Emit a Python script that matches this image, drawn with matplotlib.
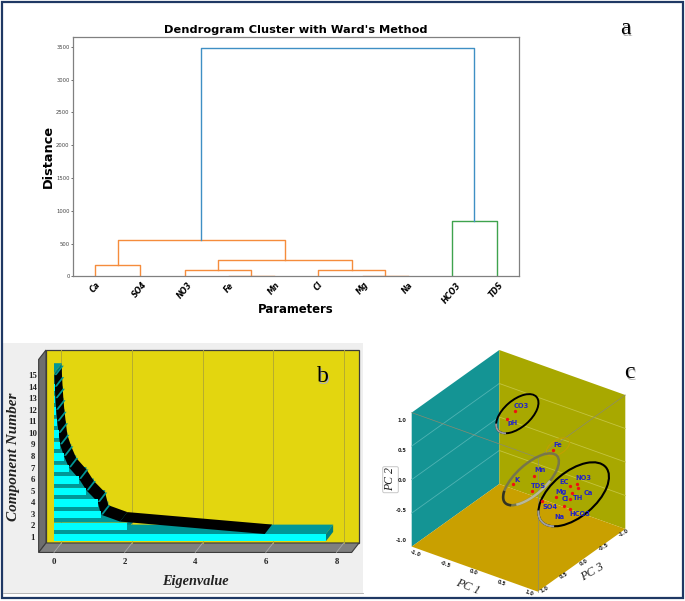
import numpy as np
import matplotlib
matplotlib.use('Agg')
import matplotlib.pyplot as plt
from matplotlib.patches import Polygon, Rectangle, Ellipse, FancyBboxPatch

W, H = 685, 601
SERIF = 'Liberation Serif'

# panel a : dendrogram
leaf_names = ['Ca','SO4','NO3','Fe','Mn','Cl','Mg','Na','HCO3','TDS']
link_left = [0,3,2,6,5,12,10,8,16]
link_right = [1,4,11,7,13,14,15,9,17]
link_height = [180,10,90,12,90,255,560,845,3480]
link_colour = ['#f58c3c']*7 + ['#3fa34d','#3f8fc4']
dist_ticks = [0,500,1000,1500,2000,2500,3000,3500]

# panel b : scree plot
components = list(range(1,16))
eigenvalues = [7.7,2.07,1.33,1.24,0.92,0.71,0.42,0.28,0.17,0.13,0.09,0.06,0.04,0.02,0.01]
line_values = [5.97,1.87,1.33,1.24,0.92,0.71,0.42,0.28,0.17,0.13,0.09,0.06,0.04,0.02,0.01]
line_levels = [1.32,2.4,3.0,4.1,5.1,6.1,7.1,8.1,9.1,10.1,11.1,12.1,13.1,14.1,15.1]
eigen_ticks = [0,2,4,6,8]

# panel c : loading plot
param_names = ['CO3','pH','Fe','Mn','K','TDS','EC','NO3','Ca','Mg','TH','Cl','SO4','Na','HCO3']
pc1 = [-0.05,-0.18,0.54,0.24,-0.09,0.21,0.81,0.93,0.94,0.59,0.85,0.82,0.38,0.72,0.81]
pc2 = [0.87,0.72,0.49,0.01,-0.23,-0.23,0.04,0.11,0.06,-0.19,-0.04,-0.14,-0.32,-0.28,-0.30]
pc3 = [0.0]*15
pc_ticks = [-1.0,-0.5,0.0,0.5,1.0]


def axes_px(fig, l, t, r, b):
    return fig.add_axes([l/W, 1-b/H, (r-l)/W, (b-t)/H])


fig = plt.figure(figsize=(W/100, H/100), dpi=100, facecolor='white')

# page frame and grey backing of panel b
bg = axes_px(fig, 0, 0, W, H)
bg.set_xlim(0, W)
bg.set_ylim(H, 0)
bg.axis('off')
bg.add_patch(Rectangle((3, 343), 360, 250, fc='#efefef', ec='none'))
bg.plot([3, 363], [592.5, 592.5], color='#a9a9a9', lw=0.6)
bg.add_patch(Rectangle((2, 1.5), 681, 596.5, fc='none', ec='#1f3864', lw=1.6))

# ---- a ----
ax = axes_px(fig, 73, 36.7, 519, 276.3)
node_x = [5+10*i for i in range(len(leaf_names))]
node_h = [0]*len(leaf_names)
for a, b, h, c in zip(link_left, link_right, link_height, link_colour):
    ax.plot([node_x[a], node_x[a], node_x[b], node_x[b]], [node_h[a], h, h, node_h[b]], color=c, lw=1.0)
    node_x.append((node_x[a]+node_x[b])/2)
    node_h.append(h)
ax.set_xlim(0, 100)
ax.set_ylim(0, 3655)
ax.set_xticks([5+10*i for i in range(len(leaf_names))])
ax.set_xticklabels(leaf_names, rotation=50, fontsize=5.6, fontweight='bold', style='italic')
ax.set_yticks(dist_ticks)
ax.tick_params(axis='y', labelsize=3.8, labelcolor='#444444', length=1.5, width=0.4, pad=1)
ax.tick_params(axis='x', length=0, pad=3)
for s in ax.spines.values():
    s.set_color('#808080')
    s.set_linewidth(0.9)
ax.set_title("Dendrogram Cluster with Ward's Method", fontsize=8.2, fontweight='bold', pad=3)
ax.set_xlabel('Parameters', fontsize=8.4, fontweight='bold', labelpad=-1)
ax.set_ylabel('Distance', fontsize=9.3, fontweight='bold', labelpad=1)

# ---- b ----
X0, XS = 54.0, 35.3    # pixel of eigenvalue 0, pixels per unit
Y1, YS = 537.7, 11.53  # pixel of component 1, pixels per component
bx = axes_px(fig, 3, 343, 363, 590)
bx.set_xlim((3-X0)/XS, (363-X0)/XS)
bx.set_ylim(1-(590-Y1)/YS, 1+(Y1-343)/YS)
bx.axis('off')

dx, dy = 0.208, 0.82
wl, wr, wb, wt = -0.227, 8.64, 0.54, 17.28
edge = '#3c3c3c'
bx.add_patch(Polygon([(wl, wb), (wr, wb), (wr, wt), (wl, wt)], fc='#e3d60f', ec=edge, lw=0.9, zorder=1))
bx.add_patch(Polygon([(wl-dx, wb-dy), (wl, wb), (wl, wt), (wl-dx, wt-dy)], fc='#6e6e6e', ec=edge, lw=0.8, zorder=1))
bx.add_patch(Polygon([(wl-dx, wb-dy), (wl, wb), (wr, wb), (wr-dx, wb-dy)], fc='#7f7f7f', ec=edge, lw=0.8, zorder=1))
for v in eigen_ticks:
    bx.plot([v+dx, v+dx], [wb, wt], color='#b5ac30', lw=0.7, zorder=2)
    bx.plot([v, v+dx], [wb-dy, wb], color='#a8a8a8', lw=0.6, zorder=2)
    bx.text(v, -1.08, str(v), family=SERIF, fontweight='bold', fontsize=6.3, ha='center', va='center', color='#222222')

bar_h = 0.63
teal = '#009797'
for k in range(len(components)-1, -1, -1):
    c = components[k]
    v = eigenvalues[k]
    z = 10+(15-c)*0.1
    top = c+bar_h/2
    bx.add_patch(Polygon([(0, top), (v, top), (v+dx, top+dy), (0, top+dy)], fc=teal, ec='none', zorder=z))
    bx.add_patch(Polygon([(v, top-bar_h), (v, top), (v+dx, top+dy), (v+dx, top-bar_h+dy)], fc='#007f7f', ec='none', zorder=z))
    bx.barh(c, v, height=bar_h, color='#00ffff', zorder=40)
    bx.text(-0.6, c, str(c), family=SERIF, fontweight='bold', fontsize=6.3, ha='center', va='center', color='#222222')

# black eigenvalue ribbon with teal strips at its joints
for k in range(len(components)-1):
    a, b = line_values[k+1], line_values[k]
    ya, yb = line_levels[k+1], line_levels[k]
    bx.add_patch(Polygon([(a, ya), (b, yb), (b+dx, yb+dy), (a+dx, ya+dy)], fc='black', ec='none', zorder=30))
for k in range(2, len(components)):
    v, y = line_values[k], line_levels[k]
    bx.add_patch(Polygon([(v, y), (v+0.06, y), (v+dx+0.06, y+dy), (v+dx, y+dy)], fc=teal, ec='none', zorder=31))

bx.text(4.0, -2.84, 'Eigenvalue', family=SERIF, style='italic', fontweight='bold', fontsize=10.3, ha='center', va='center', color='#222222')
bx.text(-1.16, 8.0, 'Component Number', family=SERIF, style='italic', fontweight='bold', fontsize=11, rotation=90, ha='center', va='center', color='#222222')

# ---- c ----
cx = axes_px(fig, 375, 345, 640, 598)
cx.set_xlim(375, 640)
cx.set_ylim(598, 345)
cx.axis('off')


def project(p1, p2, p3):
    return (518.5+63*p1-43.8*p3, 470.8+22.5*p1-67*p2+31.3*p3)


def wall(p, colour):
    cx.add_patch(Polygon([project(*q) for q in p], fc=colour, ec='none', zorder=1))


def ring_part(x, y, w, h, angle, t1, t2, colour, lw):
    t = np.radians(np.linspace(t1, t2, 40))
    th = np.radians(angle)
    ex, ey = w/2*np.cos(t), h/2*np.sin(t)
    cx.plot(x+ex*np.cos(th)-ey*np.sin(th), y+ex*np.sin(th)+ey*np.cos(th), color=colour, lw=lw, zorder=5)


wall([(-1,-1,-1), (-1,-1,1), (-1,1,1), (-1,1,-1)], '#149494')
wall([(-1,-1,-1), (1,-1,-1), (1,1,-1), (-1,1,-1)], '#a8a800')
wall([(-1,-1,-1), (1,-1,-1), (1,-1,1), (-1,-1,1)], '#c9a000')

for v in [-0.5, 0.0, 0.5]:
    a, b, d = project(-1,v,1), project(-1,v,-1), project(1,v,-1)
    cx.plot([a[0], b[0]], [a[1], b[1]], color='#4fb3b3', lw=0.6, zorder=2)
    cx.plot([b[0], d[0]], [b[1], d[1]], color='#c4c440', lw=0.6, zorder=2)
# top front edges of the open cube
tl, tf, tr, bf = project(-1,1,1), project(1,1,1), project(1,1,-1), project(1,-1,1)
cx.plot([tl[0], tf[0], tr[0]], [tl[1], tf[1], tr[1]], color='#8a8a70', lw=0.5, zorder=3)
cx.plot([tf[0], bf[0]], [tf[1], bf[1]], color='#8a8a70', lw=0.5, zorder=3)

# cluster rings
cx.add_patch(Ellipse((517.3, 413.7), 51, 27, angle=-41, fc='none', ec='black', lw=1.4, zorder=4))
ring_part(517.3, 413.7, 51, 27, -41, 150, 205, '#9a9a9a', 1.4)
cx.add_patch(Ellipse((558, 447), 26, 14, angle=-32, fc='none', ec='#c2a000', lw=0.8, zorder=4))
cx.add_patch(Ellipse((531, 479.3), 70, 30, angle=-42, fc='none', ec='#77764a', lw=1.8, zorder=4))
ring_part(531, 479.3, 70, 30, -42, 160, 215, '#33331f', 1.8)
ring_part(531, 479.3, 70, 30, -42, 70, 140, '#b9b89a', 1.8)
cx.add_patch(Ellipse((573.7, 494.3), 84, 45, angle=-40, fc='none', ec='black', lw=1.5, zorder=4))
ring_part(573.7, 494.3, 84, 45, -40, 150, 205, '#a0a0a0', 1.5)

for p1, p2, p3 in zip(pc1, pc2, pc3):
    px, py = project(p1, p2, p3)
    cx.plot(px, py, 'o', color='#f01010', ms=2.4, mew=0, zorder=6)

label_px = [(521,406),(513,423),(558,445),(540,470),(517,480),(538,486),(564,482),(583,478),(588,493),(561,492),(578,498),(565,499),(550,507),(559,517),(580,514)]
for name, (lx, ly) in zip(param_names, label_px):
    cx.text(lx, ly, name, color='#2222c8', fontsize=4.8, fontweight='bold', ha='center', va='center', zorder=7)

# tick labels on the cube edges
for v, y in zip(pc_ticks, [540, 510, 480, 450, 420]):
    cx.text(406.5, y, f'{v:.1f}', fontsize=3.6, fontweight='bold', ha='right', va='center', color='#222222')
for v, (x, y) in zip(pc_ticks, [(415,553),(445,564),(473,572),(501,583),(529,593)]):
    cx.text(x, y, f'{v:.1f}', fontsize=3.6, fontweight='bold', rotation=-20, ha='center', va='center', color='#222222')
for v, (x, y) in zip(pc_ticks, [(624,533),(604,547),(584,562),(564,575),(545,589)]):
    cx.text(x, y, f'{v:.1f}', fontsize=3.6, fontweight='bold', rotation=30, ha='center', va='center', color='#222222')

cx.text(468, 587, 'PC 1', family=SERIF, style='italic', fontsize=8.8, rotation=-22, ha='center', va='center', color='#222222')
cx.text(592, 572, 'PC 3', family=SERIF, style='italic', fontsize=8.8, rotation=30, ha='center', va='center', color='#222222')
cx.add_patch(FancyBboxPatch((384.2, 468.2), 12.6, 23, boxstyle='round,pad=1.5', fc='white', ec='#c8c8c8', lw=0.7))
cx.text(390.5, 479.5, 'PC 2', family=SERIF, style='italic', fontsize=8.5, rotation=90, ha='center', va='center', color='#222222')

# panel letters
for letter, x, y in [('a', 625, 29), ('b', 323, 377), ('c', 629, 373)]:
    fig.text((x+1)/W, 1-(y+1)/H, letter, family=SERIF, fontsize=17, ha='center', va='center', color='#b0b0b0', zorder=20)
    fig.text(x/W, 1-y/H, letter, family=SERIF, fontsize=17, ha='center', va='center', color='black', zorder=21)

fig.savefig('out.png', dpi=100)
